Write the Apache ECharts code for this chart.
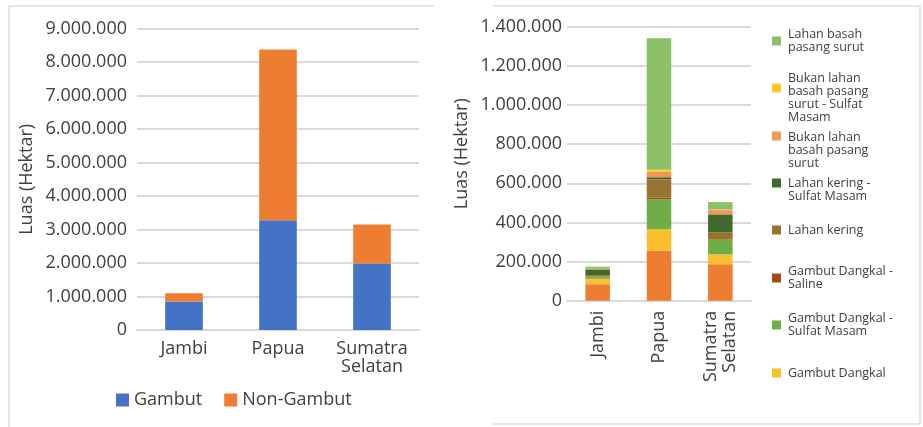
<!DOCTYPE html>
<html>
<head>
<meta charset="utf-8">
<script src="https://cdn.jsdelivr.net/npm/echarts@6/dist/echarts.min.js"></script>
<style>
  html, body { margin: 0; padding: 0; background: #ffffff; }
  #chart { width: 923px; height: 427px; }
</style>
</head>
<body>
<div id="chart"></div>
<script>
// Provinces (left panel: peat vs non-peat area)
const regions = ['Jambi', 'Papua', 'Sumatra\nSelatan'];
const gambut = [850000, 3280000, 1990000];
const nonGambut = [250000, 5100000, 1165000];

// Left axis ticks
const leftMax = 9000000;
const leftStep = 1000000;

// Right panel: land classes, stacked bottom to top
const gambutDalam = [84000, 255000, 186000];
const gambutDangkal = [28000, 110000, 51000];
const gambutDangkalSulfat = [11000, 153000, 73000];
const gambutDangkalSaline = [2000, 8000, 2000];
const lahanKering = [6000, 94000, 38000];
const lahanKeringSulfat = [29000, 11000, 91000];
const bukanLahanBasah = [2000, 28000, 22000];
const bukanLahanBasahSulfat = [1000, 12000, 3000];
const lahanBasah = [11000, 670000, 38000];

// Right axis ticks
const rightMax = 1400000;
const rightStep = 200000;

// Series names of the right panel, bottom to top
const classNames = [
  'Gambut Dalam',
  'Gambut Dangkal',
  'Gambut Dangkal - Sulfat Masam',
  'Gambut Dangkal - Saline',
  'Lahan kering',
  'Lahan kering - Sulfat Masam',
  'Bukan lahan basah pasang surut',
  'Bukan lahan basah pasang surut - Sulfat Masam',
  'Lahan basah pasang surut'
];
// Legend text, top to bottom
const legendNames = [
  'Lahan basah pasang surut',
  'Bukan lahan basah pasang surut - Sulfat Masam',
  'Bukan lahan basah pasang surut',
  'Lahan kering - Sulfat Masam',
  'Lahan kering',
  'Gambut Dangkal - Saline',
  'Gambut Dangkal - Sulfat Masam',
  'Gambut Dangkal'
];
const legendLabels = [
  'Lahan basah\npasang surut',
  'Bukan lahan\nbasah pasang\nsurut - Sulfat\nMasam',
  'Bukan lahan\nbasah pasang\nsurut',
  'Lahan kering -\nSulfat Masam',
  'Lahan kering',
  'Gambut Dangkal -\nSaline',
  'Gambut Dangkal -\nSulfat Masam',
  'Gambut Dangkal'
];

const classValues = [
  gambutDalam, gambutDangkal, gambutDangkalSulfat, gambutDangkalSaline,
  lahanKering, lahanKeringSulfat, bukanLahanBasah, bukanLahanBasahSulfat, lahanBasah
];
const classColors = [
  '#ED7D31', '#FBBF2D', '#70AD47', '#A5491B', '#977230',
  '#43682B', '#F1975A', '#FFC824', '#8CC168'
];

const FONT = '"Open Sans", sans-serif';
const TEXT = '#404040';
const GRID = '#D9D9D9';

const fmt = v => String(v).replace(/\B(?=(\d{3})+(?!\d))/g, '.');

const chart = echarts.init(document.getElementById('chart'), null, { renderer: 'canvas' });

const series = [
  {
    name: 'Gambut', type: 'bar', stack: 'left', xAxisIndex: 0, yAxisIndex: 0,
    data: gambut, barWidth: '40%', itemStyle: { color: '#4472C4' }
  },
  {
    name: 'Non-Gambut', type: 'bar', stack: 'left', xAxisIndex: 0, yAxisIndex: 0,
    data: nonGambut, barWidth: '40%', itemStyle: { color: '#ED7D31' }
  }
];
classNames.forEach((n, i) => {
  series.push({
    name: n, type: 'bar', stack: 'right', xAxisIndex: 1, yAxisIndex: 1,
    data: classValues[i], barWidth: '40%', itemStyle: { color: classColors[i] }
  });
});

// One legend block per class so each entry can sit on its own row.
// A spacer line on top pushes the text down relative to its swatch.
const legendLine = 13;
const legendIconY = [41, 88, 136, 183, 230, 278, 325, 373];
const legendShift = [0, 10, 14, 7, 0, 0, 0, 0];
const legends = [{
  data: ['Gambut', 'Non-Gambut'],
  left: 116, top: 388,
  itemWidth: 13, itemHeight: 13, itemGap: 22, padding: 0,
  icon: 'rect',
  textStyle: { fontFamily: FONT, fontSize: 18, color: TEXT, lineHeight: 24 }
}];
legendNames.forEach((n, i) => {
  const lines = legendLabels[i].split('\n');
  const pad = 2 * legendShift[i];
  const boxH = Math.max(9, lines.length * legendLine + pad);
  const body = lines.map(l => '{t|' + l + '}').join('\n');
  legends.push({
    data: [n],
    orient: 'vertical',
    left: 772,
    top: legendIconY[i] - boxH / 2,
    padding: 0,
    itemWidth: 9, itemHeight: 9,
    icon: 'rect',
    selectedMode: false,
    formatter: () => (pad > 0 ? '{s| }\n' : '') + body,
    textStyle: {
      fontFamily: FONT, fontSize: 12.5, color: TEXT, lineHeight: legendLine,
      rich: {
        s: { fontSize: 1, lineHeight: pad, height: pad },
        t: { fontFamily: FONT, fontSize: 12.5, color: TEXT, lineHeight: legendLine, padding: [0, 0, 0, 2] }
      }
    }
  });
});

const option = {
  animation: false,
  backgroundColor: '#ffffff',
  textStyle: { fontFamily: FONT },
  legend: legends,
  grid: [
    { left: 137, right: 504, top: 28.7, bottom: 97, containLabel: false },
    { left: 567, right: 172, top: 26.7, bottom: 126.3, containLabel: false }
  ],
  xAxis: [
    {
      type: 'category', gridIndex: 0, data: regions,
      axisLine: { lineStyle: { color: GRID, width: 2 } },
      axisTick: { show: false },
      axisLabel: { fontFamily: FONT, fontSize: 18, color: TEXT, lineHeight: 18, margin: 10 }
    },
    {
      type: 'category', gridIndex: 1, data: regions,
      axisLine: { lineStyle: { color: GRID, width: 2 } },
      axisTick: { show: false },
      axisLabel: { fontFamily: FONT, fontSize: 18, color: TEXT, lineHeight: 19, rotate: 90, margin: 10 }
    }
  ],
  yAxis: [
    {
      type: 'value', gridIndex: 0, min: 0, max: leftMax, interval: leftStep,
      name: 'Luas (Hektar)', nameLocation: 'middle', nameGap: 101,
      nameTextStyle: { fontFamily: FONT, fontSize: 18, color: TEXT },
      axisLine: { show: false }, axisTick: { show: false },
      axisLabel: { fontFamily: FONT, fontSize: 18, color: TEXT, margin: 10, formatter: fmt },
      splitLine: { lineStyle: { color: GRID, width: 2 } }
    },
    {
      type: 'value', gridIndex: 1, min: 0, max: rightMax, interval: rightStep,
      name: 'Luas (Hektar)', nameLocation: 'middle', nameGap: 96,
      nameTextStyle: { fontFamily: FONT, fontSize: 18, color: TEXT, padding: [0, 0, 0, 20] },
      axisLine: { show: false }, axisTick: { show: false },
      axisLabel: { fontFamily: FONT, fontSize: 18, color: TEXT, margin: 5, formatter: fmt },
      splitLine: { lineStyle: { color: GRID, width: 2 } }
    }
  ],
  series: series,
  graphic: [
    // left panel frame
    { type: 'polyline', shape: { points: [[9, 427], [9, 6], [434, 6]] },
      style: { stroke: '#DDDDDD', lineWidth: 1.5, fill: null }, silent: true },
    // right panel frame
    { type: 'polyline', shape: { points: [[493, 6], [920, 6], [920, 424], [493, 424]] },
      style: { stroke: '#DDDDDD', lineWidth: 1.5, fill: null }, silent: true }
  ]
};

chart.setOption(option);
</script>
</body>
</html>
